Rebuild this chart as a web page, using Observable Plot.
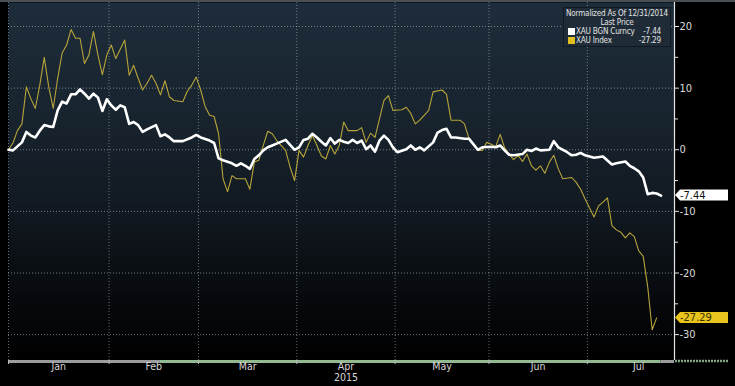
<!DOCTYPE html>
<html><head><meta charset="utf-8">
<script src="https://cdn.jsdelivr.net/npm/d3@7"></script>
<script src="https://cdn.jsdelivr.net/npm/@observablehq/plot@0.6"></script>
<style>
html,body{margin:0;padding:0;background:#000;}
#chart{position:relative;width:735px;height:386px;overflow:hidden;background:#000;}
#chart::before{content:"";position:absolute;left:0;top:0;width:735px;height:2px;background:#4a4f55;z-index:3;}
.legend{position:absolute;left:563px;top:7px;width:108px;height:40px;background:#1f2c38;border:1px solid #111a22;box-sizing:border-box;
  font-family:"DejaVu Sans Condensed","Liberation Sans Narrow","Liberation Sans",sans-serif;font-stretch:condensed;font-size:8.1px;letter-spacing:-0.2px;color:#e2e2e2;line-height:9px;z-index:2;white-space:nowrap;}
.legend .h{text-align:center;}
.legend .row{position:relative;height:9px;padding-left:12px;}
.legend .sw{position:absolute;left:4px;top:1px;width:7px;height:7px;}
.legend .v{position:absolute;right:9px;top:0;}
</style></head><body><div id="chart"></div><script>
// ---- data ----
const bgnDates = ["2014-12-31","2015-01-01","2015-01-05","2015-01-06","2015-01-07","2015-01-08","2015-01-09","2015-01-12","2015-01-13","2015-01-14","2015-01-15","2015-01-16","2015-01-19","2015-01-20","2015-01-21","2015-01-22","2015-01-23","2015-01-26","2015-01-27","2015-01-28","2015-01-29","2015-01-30","2015-02-02","2015-02-03","2015-02-04","2015-02-05","2015-02-06","2015-02-09","2015-02-10","2015-02-11","2015-02-12","2015-02-16","2015-02-17","2015-02-18","2015-02-19","2015-02-20","2015-02-24","2015-02-26","2015-02-27","2015-03-02","2015-03-04","2015-03-05","2015-03-06","2015-03-09","2015-03-11","2015-03-12","2015-03-13","2015-03-16","2015-03-17","2015-03-18","2015-03-19","2015-03-20","2015-03-23","2015-03-24","2015-03-25","2015-03-27","2015-03-30","2015-03-31","2015-04-01","2015-04-02","2015-04-03","2015-04-06","2015-04-07","2015-04-08","2015-04-09","2015-04-10","2015-04-13","2015-04-14","2015-04-15","2015-04-16","2015-04-17","2015-04-20","2015-04-21","2015-04-22","2015-04-23","2015-04-24","2015-04-27","2015-04-28","2015-04-29","2015-04-30","2015-05-01","2015-05-05","2015-05-06","2015-05-07","2015-05-08","2015-05-11","2015-05-13","2015-05-14","2015-05-15","2015-05-18","2015-05-19","2015-05-20","2015-05-22","2015-05-25","2015-05-27","2015-05-28","2015-06-01","2015-06-02","2015-06-03","2015-06-04","2015-06-05","2015-06-08","2015-06-10","2015-06-11","2015-06-12","2015-06-15","2015-06-16","2015-06-18","2015-06-19","2015-06-22","2015-06-24","2015-06-25","2015-06-26","2015-06-29","2015-06-30","2015-07-02","2015-07-06","2015-07-08","2015-07-09","2015-07-13","2015-07-14","2015-07-15","2015-07-16","2015-07-17","2015-07-20","2015-07-21","2015-07-22","2015-07-23"];
const bgnValues = [0,-0.1,1.2,2.9,2.3,2.0,3.1,4.0,3.8,3.7,6.4,7.8,7.5,9.0,9.0,9.8,9.1,8.3,9.1,8.5,6.3,8.2,7.2,6.5,7.2,6.9,4.2,4.5,4.0,2.9,3.3,4.0,2.2,2.5,2.0,1.4,1.4,2.0,2.4,2.0,1.5,1.1,-1.4,-1.7,-2.2,-2.6,-2.2,-2.6,-3.1,-1.5,-0.9,-0.1,0.4,0.7,1.0,1.6,0.8,0,0.4,1.6,1.8,2.6,2.0,1.3,0.7,1.9,1.0,1.6,1.3,1.1,1.6,1.1,1.5,0.1,0.7,-0.3,1.5,2.3,1.6,0.4,-0.4,0.1,0.7,0,0.4,-0.1,1.2,2.8,3.2,3.4,2.0,2.0,1.8,1.8,0,0.4,0.5,0.4,0.7,-0.1,-0.8,-0.9,-0.7,0,-0.2,0.2,-0.1,0,1.4,0.4,-0.4,-0.9,-0.8,-0.5,-0.9,-1.3,-1.1,-2.4,-2.2,-1.9,-2.6,-3.0,-3.5,-4.5,-7.2,-7.0,-7.1,-7.44];

const xauDates = ["2014-12-31","2015-01-01","2015-01-02","2015-01-05","2015-01-06","2015-01-07","2015-01-08","2015-01-09","2015-01-12","2015-01-13","2015-01-14","2015-01-15","2015-01-16","2015-01-19","2015-01-20","2015-01-21","2015-01-22","2015-01-23","2015-01-26","2015-01-27","2015-01-28","2015-01-29","2015-01-30","2015-02-02","2015-02-03","2015-02-05","2015-02-06","2015-02-09","2015-02-10","2015-02-11","2015-02-12","2015-02-13","2015-02-16","2015-02-17","2015-02-18","2015-02-19","2015-02-20","2015-02-24","2015-02-25","2015-02-26","2015-02-27","2015-03-02","2015-03-03","2015-03-04","2015-03-05","2015-03-06","2015-03-09","2015-03-10","2015-03-11","2015-03-12","2015-03-16","2015-03-17","2015-03-18","2015-03-19","2015-03-20","2015-03-23","2015-03-24","2015-03-25","2015-03-27","2015-03-30","2015-03-31","2015-04-01","2015-04-02","2015-04-03","2015-04-06","2015-04-07","2015-04-08","2015-04-09","2015-04-10","2015-04-13","2015-04-14","2015-04-15","2015-04-16","2015-04-20","2015-04-21","2015-04-22","2015-04-23","2015-04-24","2015-04-27","2015-04-28","2015-04-29","2015-04-30","2015-05-04","2015-05-05","2015-05-06","2015-05-07","2015-05-08","2015-05-11","2015-05-12","2015-05-13","2015-05-15","2015-05-18","2015-05-19","2015-05-21","2015-05-22","2015-05-25","2015-05-27","2015-05-28","2015-05-29","2015-06-01","2015-06-02","2015-06-03","2015-06-04","2015-06-05","2015-06-08","2015-06-09","2015-06-10","2015-06-11","2015-06-12","2015-06-15","2015-06-16","2015-06-17","2015-06-18","2015-06-19","2015-06-22","2015-06-23","2015-06-25","2015-06-26","2015-06-29","2015-06-30","2015-07-02","2015-07-03","2015-07-06","2015-07-07","2015-07-08","2015-07-09","2015-07-10","2015-07-13","2015-07-14","2015-07-15","2015-07-16","2015-07-17","2015-07-20","2015-07-21","2015-07-22"];
const xauValues = [0,1.1,3.1,4.2,10.2,8.3,6.7,10.5,15.0,10.2,6.7,11.6,15.7,17.0,19.5,18.1,18.1,14.0,15.4,19.2,15.4,12.2,15.4,17.0,14.8,17.8,12.1,13.7,11.6,9.7,10.8,12.1,10.8,8.9,11.2,8.6,8.0,7.8,9.5,10.5,11.8,9.7,7.0,5.6,5.4,2.6,-4.7,-6.8,-4.2,-4.7,-4.7,-6.4,-2.0,-1.7,0.7,3.0,2.6,1.5,-0.1,-2.8,-5.0,-0.1,-1.2,0.7,2.3,0.7,-1.0,-1.5,0.7,-0.7,0.7,4.5,3.1,3.1,3.6,1.2,2.7,2.0,5.0,8.0,8.8,6.4,6.5,6.9,5.9,4.2,4.8,5.6,6.4,9.4,9.7,9.0,4.8,4.8,4.2,1.9,-0.1,-0.1,1.2,0.9,0.5,2.5,0.3,-0.7,-1.6,-0.9,-1.9,-0.7,-2.6,-3.3,-2.6,-3.8,-2.0,-0.9,-3.1,-4.7,-4.5,-5.3,-6.4,-8.0,-10.9,-9.1,-8.5,-7.8,-12.3,-13.0,-13.4,-14.3,-13.5,-14.1,-16.4,-17.3,-22.2,-29.2,-27.29];

const seriesNames = ["XAU BGN Curncy", "XAU Index"];
const lastLabels = ["-7.44", "-27.29"];
const monthNames = ["Jan","Feb","Mar","Apr","May","Jun","Jul"];
const yearLabel = "2015";
const yTicks = [-30,-20,-10,0,10,20];
const yMinorTicks = [-25,-15,-5,5,15];
const legendTitle = "Normalized As Of 12/31/2014";
const legendSub = "Last Price";

// ---- trading-day axis (weekdays) ----
const fmt = d3.utcFormat("%Y-%m-%d");
const tradingDays = d3.utcDay.range(new Date(Date.UTC(2014,11,31)), new Date(Date.UTC(2015,7,20)))
  .filter(d => d.getUTCDay() % 6 !== 0);
const dayIndex = new Map(tradingDays.map((d,i) => [fmt(d), i]));
const pos = s => dayIndex.get(s);
const firstIdx = dt => tradingDays.findIndex(d => d >= dt);
const monthStarts = d3.range(0, 8).map(m => firstIdx(new Date(Date.UTC(2015, m, 1))) - 0.5);
monthStarts[0] = 0;
const monthTicks = monthStarts.slice(0, 7);
const monthLabels = monthNames.map((name, i) => ({name, x: (monthStarts[i] + monthStarts[i+1]) / 2}));
const xEnd = pos("2015-07-28");
const yDomain = [-34.2, 23.9];

const bgn = bgnDates.map((d,i) => ({x: pos(d), y: bgnValues[i]}));
const xau = xauDates.map((d,i) => ({x: pos(d), y: xauValues[i]}));

const bottomSegments = [
  {x1: pos("2014-12-31"), x2: pos("2015-02-17"), c: "#9a9c9e"},
  {x1: pos("2015-02-17"), x2: pos("2015-07-23"), c: "#93b993"},
  {x1: pos("2015-07-23"), x2: xEnd, c: "#9a9c9e"}
];

const FONT = '"DejaVu Sans Condensed","Liberation Sans Narrow","DejaVu Sans",sans-serif';

function defsMark() {
  const defs = d3.create("svg:defs");
  const lg = defs.append("linearGradient").attr("id","bgGrad").attr("x1",0).attr("y1",0).attr("x2",0).attr("y2",1);
  [[0,"#1e2d3b"],[0.3,"#18242f"],[0.55,"#121a22"],[0.8,"#080b0f"],[0.93,"#020304"],[1,"#000"]]
    .forEach(([o,c]) => lg.append("stop").attr("offset",o).attr("stop-color",c));
  return defs.node();
}

function tagMark(value, text, fill, color) {
  return (index, scales, values, dims) => {
    const y = scales.y(value);
    const x0 = dims.width - dims.marginRight + 1;
    const g = d3.create("svg:g");
    g.append("path").attr("d", `M${x0},${y} L${x0+5},${y-5.5} H${x0+53} V${y+5.5} H${x0+5} Z`).attr("fill", fill);
    g.append("text").attr("x", x0+5).attr("y", y).attr("dy","0.36em").attr("text-anchor","start")
      .attr("fill", color).attr("font-size", 11).attr("font-family", FONT).text(text);
    return g.node();
  };
}

function extMark(index, scales, values, dims) {
  const xr = dims.width - dims.marginRight;
  const yb = dims.height - dims.marginBottom + 1;
  const g = d3.create("svg:g");
  g.append("line").attr("x1", xr+1).attr("x2", xr+54).attr("y1", yb).attr("y2", yb)
    .attr("stroke","#7fa67f").attr("stroke-width",2.5).attr("stroke-dasharray","2,1");
  return g.node();
}

const chart = Plot.plot({
  width: 735, height: 386,
  marginLeft: 8, marginRight: 61, marginTop: 2, marginBottom: 26,
  x: {domain: [0, xEnd], axis: null},
  y: {domain: yDomain, axis: null},
  style: {background: "#000", fontFamily: FONT, color: "#dadada", overflow: "visible"},
  marks: [
    defsMark,
    Plot.frame({fill: "url(#bgGrad)", stroke: "none"}),
    Plot.gridX(monthTicks, {stroke: "#b4bec6", strokeOpacity: 0.55, strokeDasharray: "1,2", strokeWidth: 1}),
    Plot.gridY(yTicks, {stroke: "#b4bec6", strokeOpacity: 0.6, strokeDasharray: "1,2", strokeWidth: 1}),
    Plot.line(xau, {x: "x", y: "y", stroke: "#b7a43a", strokeWidth: 1.1}),
    Plot.line(bgn, {x: "x", y: "y", stroke: "#ffffff", strokeWidth: 2.6}),
    Plot.ruleY(bottomSegments, {y: () => yDomain[0], x1: "x1", x2: "x2", stroke: "c", strokeWidth: 3, dy: 1}),
    Plot.ruleX([xEnd], {stroke: "#e6e6e6", strokeWidth: 1.2}),
    Plot.axisY(yTicks, {anchor: "right", tickSize: 4, tickPadding: 1, fontSize: 11, stroke: "#e6e6e6", tickFormat: d => String(d), label: null}),
    Plot.axisY(yMinorTicks, {anchor: "right", tickSize: 3, tickFormat: () => "", stroke: "#e6e6e6", label: null}),
    Plot.axisX(monthTicks, {anchor: "bottom", tickSize: 4, tickFormat: () => "", stroke: "#bbbbbb", label: null}),
    Plot.text(monthLabels, {x: "x", text: "name", frameAnchor: "bottom", dy: 9, fontSize: 10.5, fill: "#d6d6d6"}),
    Plot.text([yearLabel], {x: monthLabels[3].x, text: d => d, frameAnchor: "bottom", dy: 20.5, fontSize: 10.5, fill: "#d6d6d6"}),
    extMark,
    tagMark(bgnValues[bgnValues.length-1], lastLabels[0], "#ffffff", "#111111"),
    tagMark(xauValues[xauValues.length-1], lastLabels[1], "#e8c41c", "#3a3000")
  ]
});

const root = document.getElementById("chart");
root.appendChild(chart);

const legend = document.createElement("div");
legend.className = "legend";
legend.innerHTML =
  `<div class="h" style="margin-top:1px">${legendTitle}</div><div class="h">${legendSub}</div>` +
  seriesNames.map((n,i) => `<div class="row"><span class="sw" style="background:${i ? "#e0bf1e" : "#ffffff"}"></span>${n}<span class="v">${lastLabels[i]}</span></div>`).join("");
root.appendChild(legend);
</script></body></html>
